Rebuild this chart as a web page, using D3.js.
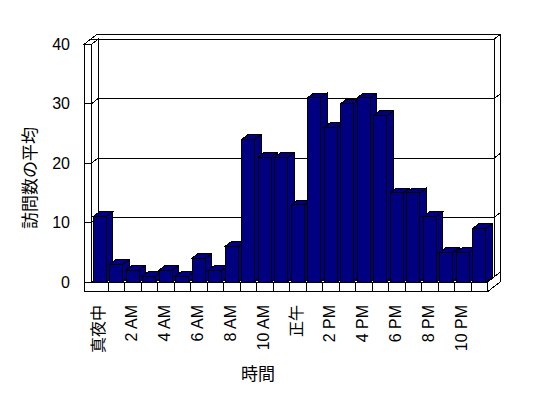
<!DOCTYPE html>
<html>
<head>
<meta charset="utf-8">
<script src="https://cdn.jsdelivr.net/npm/d3@7"></script>
<style>
  body { margin: 0; background: #fff; }
  svg text { font-family: "Liberation Sans", "Noto Sans CJK JP", sans-serif; fill: #000; }
</style>
</head>
<body>
<svg id="chart" width="548" height="398"></svg>
<script>
const hours = d3.range(24);
const hourLabels = ['真夜中', '', '2 AM', '', '4 AM', '', '6 AM', '', '8 AM', '', '10 AM', '',
  '正午', '', '2 PM', '', '4 PM', '', '6 PM', '', '8 PM', '', '10 PM', ''];
const visits = [11, 3, 2, 1, 2, 1, 4, 2, 6, 24, 21, 21, 13, 31, 26, 30, 31, 28, 15, 15, 11, 5, 5, 9];
const yTicks = [0, 10, 20, 30, 40];

const svg = d3.select('#chart');

/* front plane of the plot */
const plotLeft = 91.5;
const plotRight = 487.5;
const plotBase = 282;
const plotTop = 44.3;
/* depth offset front -> back */
const dx = 6.5;
const dy = -5;
const wallWidth = 7.5;
const floorHeight = 9.7;
const barFill = '#000080';

const x = d3.scaleBand()
  .domain(hours)
  .range([plotLeft, plotRight])
  .paddingInner(0.19)
  .paddingOuter(0.095);

const y = d3.scaleLinear()
  .domain([0, 40])
  .range([plotBase, plotTop]);

const poly = (pts) => 'M' + pts.map(p => p.join(',')).join('L') + 'Z';
const g = svg.append('g')
  .attr('stroke', '#000')
  .attr('stroke-width', 1)
  .attr('shape-rendering', 'crispEdges');

/* back wall */
g.append('path')
  .attr('fill', '#fff')
  .attr('d', poly([[plotLeft + dx, plotTop + dy], [plotRight + dx, plotTop + dy],
    [plotRight + dx, plotBase + dy], [plotLeft + dx, plotBase + dy]]));

/* back wall thickness: top and right side */
g.append('path')
  .attr('fill', '#fff')
  .attr('d', poly([[plotLeft - wallWidth + dx, plotTop + dy], [plotRight + dx, plotTop + dy],
    [plotRight + 2 * dx, plotTop + 2 * dy], [plotLeft - wallWidth + 2 * dx, plotTop + 2 * dy]]));
g.append('path')
  .attr('fill', '#fff')
  .attr('d', poly([[plotRight + dx, plotTop + dy], [plotRight + 2 * dx, plotTop + 2 * dy],
    [plotRight + 2 * dx, plotBase + floorHeight + 2 * dy], [plotRight, plotBase + floorHeight],
    [plotRight, plotBase], [plotRight + dx, plotBase + dy]]));

/* left wall inner face */
g.append('path')
  .attr('fill', '#fff')
  .attr('d', poly([[plotLeft, plotTop], [plotLeft + dx, plotTop + dy],
    [plotLeft + dx, plotBase + dy], [plotLeft, plotBase]]));

/* left wall top */
g.append('path')
  .attr('fill', '#fff')
  .attr('d', poly([[plotLeft - wallWidth, plotTop], [plotLeft, plotTop],
    [plotLeft + dx, plotTop + dy], [plotLeft - wallWidth + dx, plotTop + dy]]));

/* floor top */
g.append('path')
  .attr('fill', '#fff')
  .attr('d', poly([[plotLeft, plotBase], [plotRight, plotBase],
    [plotRight + dx, plotBase + dy], [plotLeft + dx, plotBase + dy]]));

/* left wall front + floor front */
g.append('path')
  .attr('fill', '#fff')
  .attr('d', poly([[plotLeft - wallWidth, plotTop], [plotLeft, plotTop], [plotLeft, plotBase],
    [plotRight, plotBase], [plotRight, plotBase + floorHeight], [plotLeft - wallWidth, plotBase + floorHeight]]));

/* gridlines on back wall, left wall and right side */
yTicks.forEach(t => {
  const yf = y(t);
  g.append('line')
    .attr('x1', plotLeft + dx).attr('y1', yf + dy)
    .attr('x2', plotRight + dx).attr('y2', yf + dy);
  g.append('line')
    .attr('x1', plotLeft).attr('y1', yf)
    .attr('x2', plotLeft + dx).attr('y2', yf + dy);
  g.append('line')
    .attr('x1', plotLeft - wallWidth).attr('y1', yf)
    .attr('x2', plotLeft).attr('y2', yf);
  g.append('line')
    .attr('x1', plotRight + dx).attr('y1', yf + dy)
    .attr('x2', plotRight + 2 * dx).attr('y2', yf + 2 * dy);
});

/* category dividers on the floor front */
hours.slice(1).forEach(h => {
  const xd = x(h) - x.step() * x.paddingInner() / 2;
  g.append('line')
    .attr('x1', xd).attr('y1', plotBase)
    .attr('x2', xd).attr('y2', plotBase + floorHeight);
});

/* bars */
const bdx = 6.2;
const bdy = -4.7;
const w = x.bandwidth();
hours.forEach(h => {
  const x0 = x(h);
  const yt = y(visits[h]);
  const bar = g.append('g').attr('fill', barFill);
  bar.append('path')
    .attr('d', poly([[x0 + w, plotBase], [x0 + w, yt], [x0 + w + bdx, yt + bdy], [x0 + w + bdx, plotBase + bdy]]));
  bar.append('path')
    .attr('d', poly([[x0, yt], [x0 + w, yt], [x0 + w + bdx, yt + bdy], [x0 + bdx, yt + bdy]]));
  bar.append('rect')
    .attr('x', x0).attr('y', yt)
    .attr('width', w).attr('height', plotBase - yt);
});

/* y tick labels */
svg.append('g')
  .selectAll('text')
  .data(yTicks)
  .join('text')
  .attr('x', 70)
  .attr('y', d => y(d))
  .attr('text-anchor', 'end')
  .attr('dominant-baseline', 'central')
  .attr('font-size', 16)
  .text(d => d);

/* x tick labels */
svg.append('g')
  .selectAll('text')
  .data(hours.filter(h => hourLabels[h] !== ''))
  .join('text')
  .attr('transform', h => `translate(${x(h) + w / 2 - 1},305) rotate(-90)`)
  .attr('text-anchor', 'end')
  .attr('dominant-baseline', 'central')
  .attr('font-size', 16)
  .text(h => hourLabels[h]);

/* axis titles */
svg.append('text')
  .attr('transform', 'translate(30,178) rotate(-90)')
  .attr('text-anchor', 'middle')
  .attr('dominant-baseline', 'central')
  .attr('font-size', 17)
  .text('訪問数の平均');

svg.append('text')
  .attr('x', 258)
  .attr('y', 374)
  .attr('text-anchor', 'middle')
  .attr('dominant-baseline', 'central')
  .attr('font-size', 17)
  .text('時間');
</script>
</body>
</html>
